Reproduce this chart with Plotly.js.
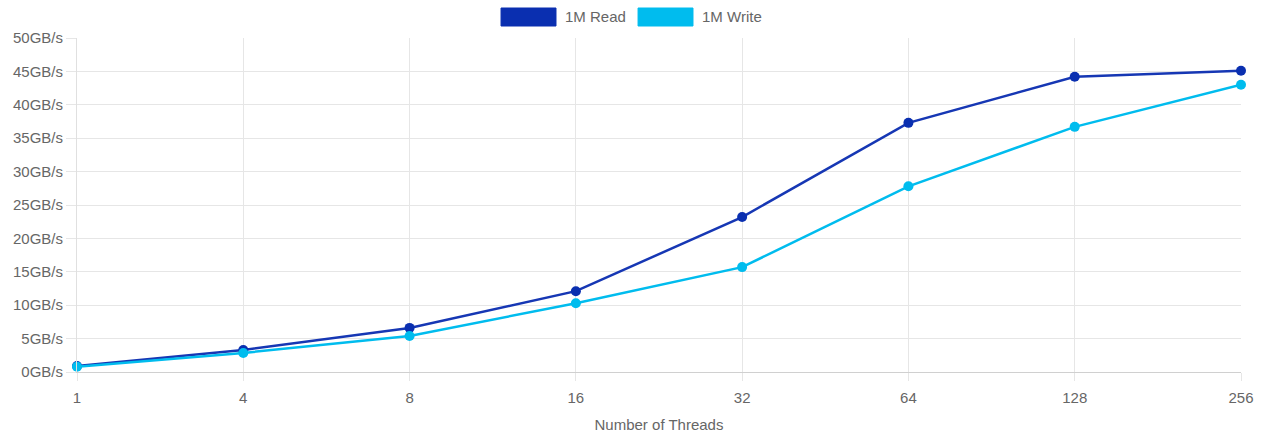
<!DOCTYPE html>
<html>
<head>
<meta charset="utf-8">
<script src="https://cdn.plot.ly/plotly-3.0.1.min.js"></script>
<style>html,body{margin:0;padding:0;background:#fff;}#chart{width:1261px;height:434px;}</style>
</head>
<body>
<div id="chart"></div>
<script>
const threads = ["1", "4", "8", "16", "32", "64", "128", "256"];
const readGBs = [0.9, 3.3, 6.6, 12.1, 23.2, 37.3, 44.2, 45.1];
const writeGBs = [0.8, 2.85, 5.4, 10.3, 15.7, 27.8, 36.7, 43.0];
const seriesNames = ["1M Read", "1M Write"];
const readColor = "#0a2fb0";
const readLine = "#1637b4";
const writeColor = "#00bcee";
const colors = [readColor, writeColor];

const font = {family: "Liberation Sans, Arial, Helvetica, sans-serif", size: 15, color: "#666666"};

const traces = [
  {x: threads, y: readGBs, type: "scatter", mode: "lines+markers", name: seriesNames[0], showlegend: false,
   line: {color: readLine, width: 2.5}, marker: {color: readColor, size: 10}, cliponaxis: false},
  {x: threads, y: writeGBs, type: "scatter", mode: "lines+markers", name: seriesNames[1], showlegend: false,
   line: {color: writeColor, width: 2.5}, marker: {color: writeColor, size: 10}, cliponaxis: false}
];

// Chart.js-style legend: wide colour boxes with labels, centred above the plot
const legendBoxes = [
  {x0: 0.3643, x1: 0.4115, tx: 0.4175},
  {x0: 0.4820, x1: 0.5292, tx: 0.5352}
];
const shapes = legendBoxes.map((b, i) => ({
  type: "rect", xref: "paper", yref: "paper", x0: b.x0, x1: b.x1, y0: 1.0359, y1: 1.0898,
  fillcolor: colors[i], line: {width: 1, color: colors[i]}, layer: "above"
}));
const annotations = legendBoxes.map((b, i) => ({
  xref: "paper", yref: "paper", x: b.tx, y: 1.0629, xanchor: "left", yanchor: "middle",
  text: seriesNames[i], showarrow: false, font: font
}));

const layout = {
  width: 1261, height: 434,
  margin: {l: 77, r: 20, t: 38, b: 62},
  paper_bgcolor: "#ffffff", plot_bgcolor: "#ffffff",
  font: font,
  showlegend: false,
  shapes: shapes,
  annotations: annotations,
  xaxis: {
    type: "category", categoryorder: "array", categoryarray: threads,
    range: [0, threads.length - 1],
    showgrid: true, gridcolor: "#e6e6e6", gridwidth: 1,
    showline: true, linecolor: "#d0d0d0", linewidth: 1,
    ticks: "outside", ticklen: 8, tickcolor: "#e6e6e6",
    ticklabelstandoff: 4,
    zeroline: false, tickfont: font,
    title: {text: "Number of Threads", font: font, standoff: 14}
  },
  yaxis: {
    range: [0, 50], dtick: 5, tick0: 0, ticksuffix: "GB/s",
    showgrid: true, gridcolor: "#e6e6e6", gridwidth: 1,
    showline: true, linecolor: "#e0e0e0", linewidth: 1,
    ticks: "outside", ticklen: 10, tickcolor: "#e6e6e6",
    zeroline: false, tickfont: font
  },
  hovermode: false
};

Plotly.newPlot("chart", traces, layout, {displayModeBar: false, staticPlot: true});
</script>
</body>
</html>
